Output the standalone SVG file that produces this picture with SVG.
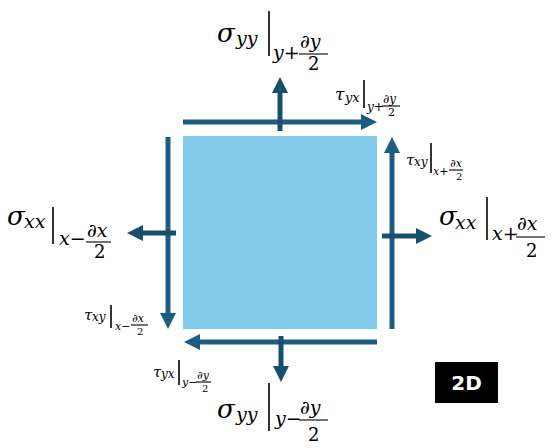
<svg xmlns="http://www.w3.org/2000/svg" width="552" height="448" viewBox="0 0 552 448">
<style>
.bg{fill:#ffffff}
.sq{fill:#82CBEB}
.tau{fill:none;stroke:#1B5E82;stroke-width:5}
.sig{fill:none;stroke:#174F6E;stroke-width:5}
.m{font-family:"DejaVu Serif","Liberation Serif",serif;font-style:italic;fill:#000}
.up{font-style:normal}
.bar{stroke:#000;stroke-width:1.6}
.fr{stroke:#000;stroke-width:1.1}
.badge{fill:#000}
.bt{font-family:"DejaVu Sans","Liberation Sans",sans-serif;font-weight:bold;font-size:20px;fill:#fff;text-anchor:middle}
</style>
<defs>
<marker id="ht" markerUnits="userSpaceOnUse" markerWidth="17" markerHeight="17" refX="2" refY="8" orient="auto">
<path d="M0,0 L16,8 L0,16 z" fill="#1B5E82"/>
</marker>
<marker id="hs" markerUnits="userSpaceOnUse" markerWidth="17" markerHeight="17" refX="2" refY="8" orient="auto">
<path d="M0,0 L16,8 L0,16 z" fill="#174F6E"/>
</marker>
</defs>
<rect class="bg" x="0" y="0" width="552" height="448"/>
<g id="element">
<rect class="sq" x="183" y="136" width="194" height="193"/>
</g>
<g id="connectors">
<path class="tau" d="M183,122 H363" marker-end="url(#ht)"/>
<path class="sig" d="M280,131 V91" marker-end="url(#hs)"/>
<path class="tau" d="M392,329 V151" marker-end="url(#ht)"/>
<path class="sig" d="M382,236 H418" marker-end="url(#hs)"/>
<path class="tau" d="M168,137 V315" marker-end="url(#ht)"/>
<path class="sig" d="M176,233 H141" marker-end="url(#hs)"/>
<path class="tau" d="M377,342 H198" marker-end="url(#ht)"/>
<path class="sig" d="M281,336 V368" marker-end="url(#hs)"/>
</g>
<g id="label-syy-top">
<text class="m" x="217" y="42" font-size="26">σ</text>
<text class="m" x="236" y="45" font-size="19">yy</text>
<line class="bar" x1="269" y1="11" x2="269" y2="56"/>
<text class="m" x="273" y="59" font-size="19">y<tspan class="up">+</tspan></text>
<text class="m" x="300" y="48" font-size="19">∂y</text>
<line class="fr" x1="299" y1="54" x2="328" y2="54"/>
<text class="m up" x="308" y="70" font-size="18">2</text>
</g>
<g id="label-sxx-right">
<text class="m" x="439" y="225" font-size="26">σ</text>
<text class="m" x="455" y="229" font-size="19">xx</text>
<line class="bar" x1="487" y1="197" x2="487" y2="240"/>
<text class="m" x="492" y="240" font-size="19">x<tspan class="up">+</tspan></text>
<text class="m" x="517" y="230" font-size="19">∂x</text>
<line class="fr" x1="516" y1="237" x2="545" y2="237"/>
<text class="m up" x="526" y="257" font-size="18">2</text>
</g>
<g id="label-sxx-left">
<text class="m" x="7" y="225" font-size="26">σ</text>
<text class="m" x="24" y="228" font-size="19">xx</text>
<line class="bar" x1="53" y1="207" x2="53" y2="244"/>
<text class="m" x="59" y="245" font-size="19">x<tspan class="up">−</tspan></text>
<text class="m" x="87" y="237" font-size="19">∂x</text>
<line class="fr" x1="86" y1="242" x2="111" y2="242"/>
<text class="m up" x="94" y="258" font-size="18">2</text>
</g>
<g id="label-syy-bottom">
<text class="m" x="217" y="418" font-size="26">σ</text>
<text class="m" x="236" y="421" font-size="19">yy</text>
<line class="bar" x1="269" y1="383" x2="269" y2="431"/>
<text class="m" x="275" y="425" font-size="19">y<tspan class="up">−</tspan></text>
<text class="m" x="300" y="414" font-size="19">∂y</text>
<line class="fr" x1="299" y1="420" x2="328" y2="420"/>
<text class="m up" x="308" y="441" font-size="18">2</text>
</g>
<g id="label-tyx-top">
<text class="m" x="335" y="100" font-size="17">τ</text>
<text class="m" x="345" y="102" font-size="13">yx</text>
<line class="bar" x1="364" y1="80" x2="364" y2="108"/>
<text class="m" x="367" y="111" font-size="12">y<tspan class="up">+</tspan></text>
<text class="m" x="383" y="103" font-size="12">∂y</text>
<line class="fr" x1="382" y1="106" x2="400" y2="106"/>
<text class="m up" x="388" y="116" font-size="11">2</text>
</g>
<g id="label-txy-right">
<text class="m" x="406" y="165" font-size="15">τ</text>
<text class="m" x="414" y="166" font-size="12">xy</text>
<line class="bar" x1="431" y1="143" x2="431" y2="173"/>
<text class="m" x="433" y="175" font-size="11">x<tspan class="up">+</tspan></text>
<text class="m" x="450" y="167" font-size="11">∂x</text>
<line class="fr" x1="449" y1="170" x2="463" y2="170"/>
<text class="m up" x="456" y="180" font-size="10">2</text>
</g>
<g id="label-txy-left">
<text class="m" x="84" y="320" font-size="15">τ</text>
<text class="m" x="92" y="321" font-size="12">xy</text>
<line class="bar" x1="111" y1="305" x2="111" y2="328"/>
<text class="m" x="115" y="330" font-size="11">x<tspan class="up">−</tspan></text>
<text class="m" x="132" y="322" font-size="11">∂x</text>
<line class="fr" x1="131" y1="325" x2="148" y2="325"/>
<text class="m up" x="137" y="335" font-size="10">2</text>
</g>
<g id="label-tyx-bottom">
<text class="m" x="153" y="377" font-size="15">τ</text>
<text class="m" x="161" y="378" font-size="12">yx</text>
<line class="bar" x1="179" y1="360" x2="179" y2="385"/>
<text class="m" x="182" y="386" font-size="11">y<tspan class="up">−</tspan></text>
<text class="m" x="197" y="379" font-size="11">∂y</text>
<line class="fr" x1="196" y1="382" x2="211" y2="382"/>
<text class="m up" x="202" y="392" font-size="10">2</text>
</g>
<g id="badge-2d">
<rect class="badge" x="435" y="362" width="63" height="41"/>
<text class="bt" x="466.5" y="390">2D</text>
</g>
</svg>
